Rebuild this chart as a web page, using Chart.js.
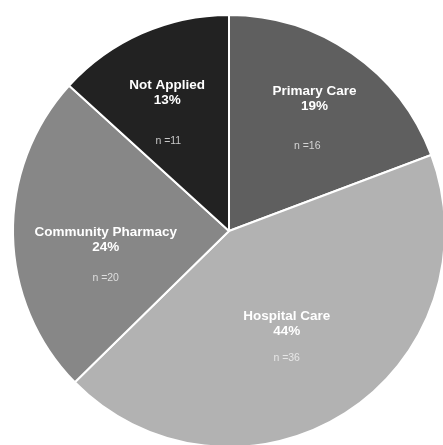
<!DOCTYPE html>
<html>
<head>
<meta charset="utf-8">
<script src="https://cdn.jsdelivr.net/npm/chart.js@4/dist/chart.umd.min.js"></script>
<style>
  html, body { margin: 0; padding: 0; width: 443px; height: 445px; overflow: hidden; background: #ffffff; }
  #wrap { position: absolute; left: 0; top: 0; width: 460px; height: 460px; }
</style>
</head>
<body>
<div id="wrap"><canvas id="chart" width="460" height="460"></canvas></div>
<script>
// Setting in which the respondents work
const categories = ['Primary Care', 'Hospital Care', 'Community Pharmacy', 'Not Applied'];
const counts = [16, 36, 20, 11];
const percentLabels = ['19%', '44%', '24%', '13%'];

// Slice fills and where each slice's text block sits (in units of the pie radius)
const sliceColors = ['#5f5f5f', '#b2b2b2', '#878787', '#222222'];
const countColors = ['#d4d4d4', '#e6e6e6', '#dedede', '#c8c8c8'];
const labelSpots = [
  { fx: 0.396, fy: -0.645, nx: 0.362, ny: -0.392 },
  { fx: 0.267, fy: 0.396, nx: 0.267, ny: 0.590 },
  { fx: -0.571, fy: 0.005, nx: -0.571, ny: 0.217 },
  { fx: -0.286, fy: -0.673, nx: -0.281, ny: -0.415 }
];

const sliceText = {
  id: 'sliceText',
  afterDatasetsDraw(chart) {
    const ctx = chart.ctx;
    const meta = chart.getDatasetMeta(0);
    meta.data.forEach((arc, i) => {
      const r = arc.outerRadius;
      const s = labelSpots[i];
      const tx = arc.x + s.fx * r;
      const ty = arc.y + s.fy * r;
      ctx.save();
      ctx.textAlign = 'center';
      ctx.textBaseline = 'middle';
      ctx.fillStyle = '#ffffff';
      ctx.font = 'bold 13.5px "Liberation Sans", Arial, sans-serif';
      ctx.fillText(categories[i], tx, ty);
      ctx.fillText(percentLabels[i], tx, ty + 15);
      ctx.font = '10.5px "Liberation Sans", Arial, sans-serif';
      ctx.fillStyle = countColors[i];
      ctx.fillText('n =' + counts[i], arc.x + s.nx * r, arc.y + s.ny * r);
      ctx.restore();
    });
  }
};

new Chart(document.getElementById('chart'), {
  type: 'pie',
  data: {
    labels: categories,
    datasets: [{
      data: counts,
      backgroundColor: sliceColors,
      borderColor: '#ffffff',
      borderWidth: 2
    }]
  },
  options: {
    responsive: false,
    animation: false,
    devicePixelRatio: 1,
    layout: { padding: { left: 12, top: 14, right: 14, bottom: 12 } },
    plugins: {
      legend: { display: false },
      tooltip: { enabled: false }
    }
  },
  plugins: [sliceText]
});
</script>
</body>
</html>
